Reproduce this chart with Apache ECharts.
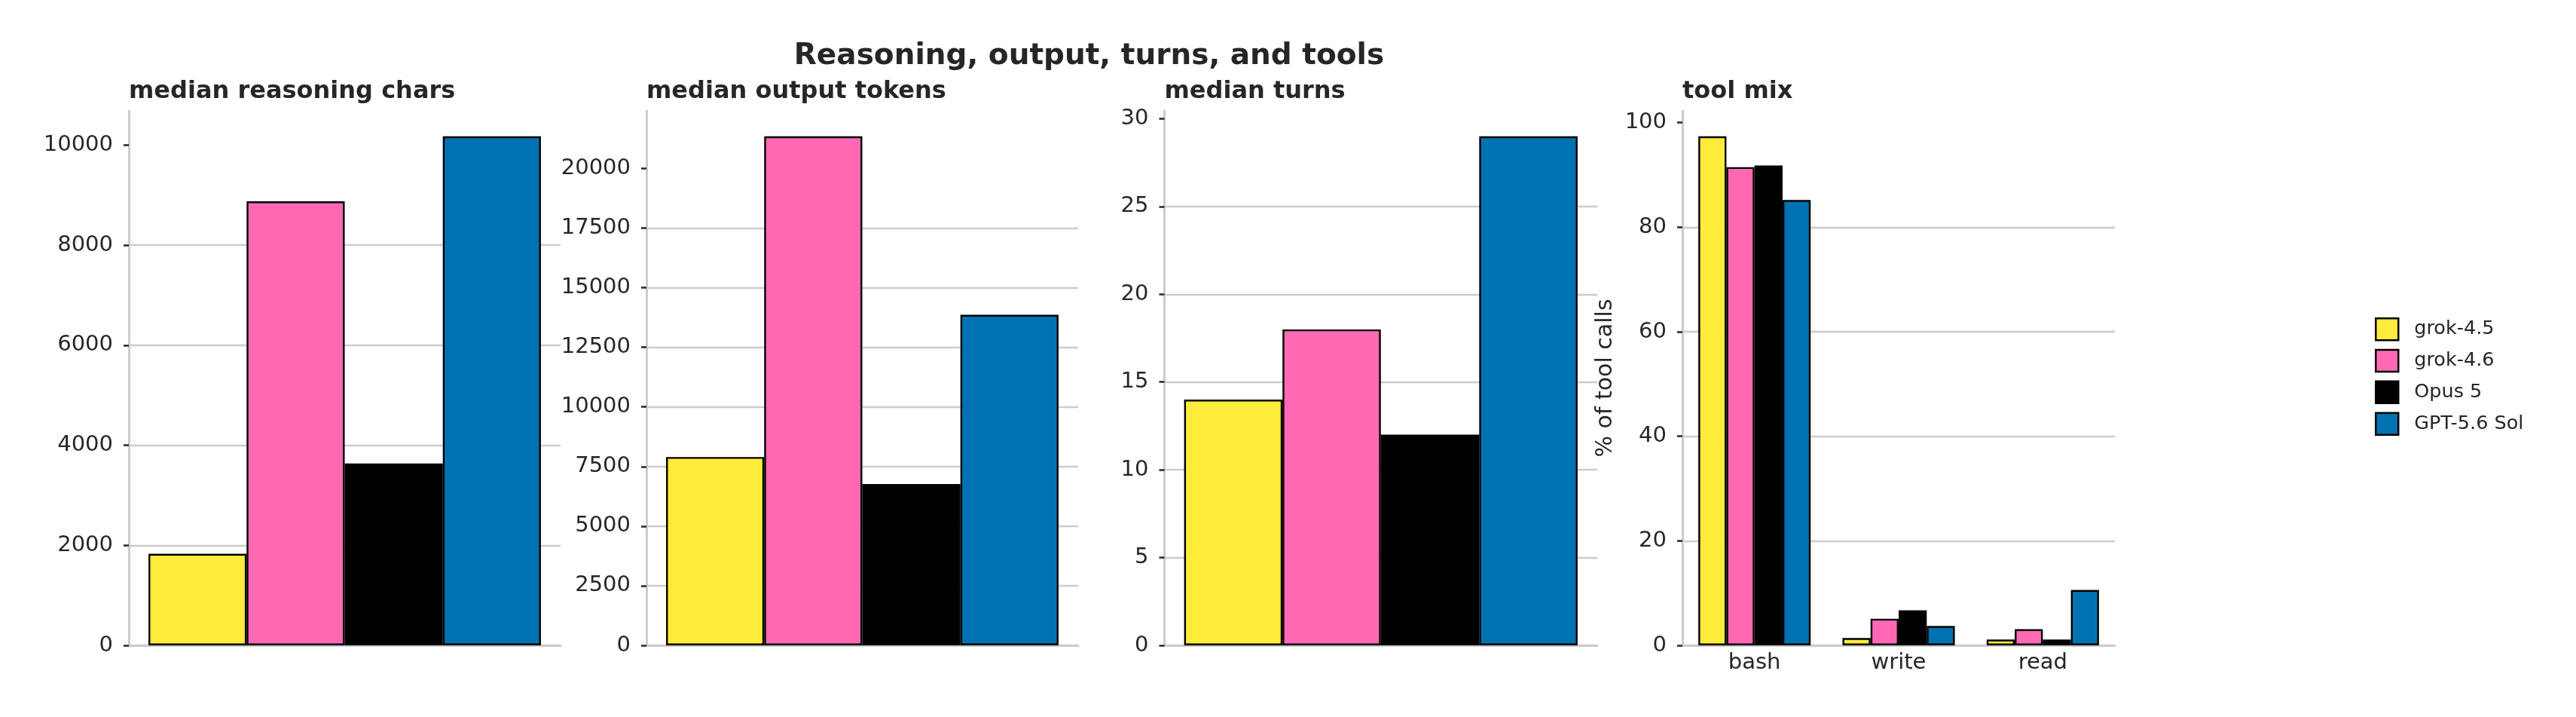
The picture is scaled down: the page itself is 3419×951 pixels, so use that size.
<!DOCTYPE html>
<html><head><meta charset="utf-8">
<script src="https://cdn.jsdelivr.net/npm/echarts@6/dist/echarts.min.js"></script>
<style>html,body{margin:0;padding:0;background:#fff}#c{width:3419px;height:951px}</style>
</head><body><div id="c"></div>
<script>
// ---- data ----
const models = ['grok-4.5', 'grok-4.6', 'Opus 5', 'GPT-5.6 Sol'];
const reasoningChars = [1830, 8875, 3635, 10175];
const outputTokens = [7900, 21350, 6765, 13865];
const medianTurns = [14, 18, 12, 29];
const toolNames = ['bash', 'write', 'read'];
const toolMixGrok45 = [97.4, 1.4, 1.1];
const toolMixGrok46 = [91.5, 5.1, 3.1];
const toolMixOpus5 = [91.8, 6.7, 1.1];
const toolMixGpt56 = [85.2, 3.7, 10.6];
const panelTitles = ['median reasoning chars', 'median output tokens', 'median turns', 'tool mix'];
const yTickIntervals = [2000, 2500, 5, 20];
const mainTitle = 'Reasoning, output, turns, and tools';
const toolAxisLabel = '% of tool calls';

// ---- style / layout ----
const colors = ['#ffeb3b', '#ff69b4', '#000000', '#0072b2'];
const FONT = 'DejaVu Sans';
const TXT = '#262626';
const GRIDC = '#cccccc';
const TICK_FS = 29;
const gridLefts = [171, 858, 1545.5, 2233];
const gridWidths = [573, 573, 574.5, 574];
const GRID_TOP = 147, GRID_H = 709;

const toolMix = [toolMixGrok45, toolMixGrok46, toolMixOpus5, toolMixGpt56];
const singleValues = [reasoningChars, outputTokens, medianTurns];

const grids = [], xAxes = [], yAxes = [], series = [];
for (let p = 0; p < 4; p++) {
  grids.push({ left: gridLefts[p], top: GRID_TOP, width: gridWidths[p], height: GRID_H, containLabel: false });
  const isTool = p === 3;
  xAxes.push({
    type: 'category', gridIndex: p,
    data: isTool ? toolNames : [''],
    axisLine: { show: true, lineStyle: { color: GRIDC, width: 3 } },
    axisTick: { show: false },
    axisLabel: { show: isTool, fontFamily: FONT, fontSize: TICK_FS, color: TXT, margin: 9 },
    splitLine: { show: false }
  });
  const vals = isTool ? [].concat(...toolMix) : singleValues[p];
  const ymax = Math.max(...vals) * 1.05;
  const iv = yTickIntervals[p];
  const tickVals = [];
  for (let v = 0; v <= ymax + 1e-9; v += iv) tickVals.push(v);
  yAxes.push({
    type: 'value', gridIndex: p, min: 0, max: ymax, interval: iv,
    axisLine: { show: true, lineStyle: { color: GRIDC, width: 3 } },
    axisTick: { show: true, length: 7, lineStyle: { color: TXT, width: 2.5 }, customValues: tickVals },
    axisLabel: { fontFamily: FONT, fontSize: TICK_FS, color: TXT, margin: 21, customValues: tickVals,
      formatter: v => (Math.abs(v / iv - Math.round(v / iv)) < 1e-6 ? String(Math.round(v)) : '') },
    splitLine: { show: true, showMaxLine: false, lineStyle: { color: GRIDC, width: 2.4 } },
    name: isTool ? toolAxisLabel : '',
    nameLocation: 'middle', nameGap: 87,
    nameTextStyle: { fontFamily: FONT, fontSize: 30, color: TXT }
  });
  for (let m = 0; m < models.length; m++) {
    series.push({
      type: 'bar', name: models[m], xAxisIndex: p, yAxisIndex: p,
      data: isTool ? toolMix[m] : [singleValues[p][m]],
      barGap: '0%', barCategoryGap: isTool ? '22.1%' : '9.1%',
      itemStyle: { color: colors[m], borderColor: '#000000', borderWidth: 2.4 },
      emphasis: { disabled: true }
    });
  }
}

const graphics = [{
  type: 'text', x: 1445.5, y: 74.5,
  style: { text: mainTitle, font: 'bold 39px "DejaVu Sans"', fill: TXT, align: 'center', verticalAlign: 'middle' }
}];
for (let p = 0; p < 4; p++) {
  graphics.push({
    type: 'text', x: gridLefts[p], y: 122,
    style: { text: panelTitles[p], font: 'bold 32px "DejaVu Sans"', fill: TXT, align: 'left', verticalAlign: 'middle' }
  });
}

const chart = echarts.init(document.getElementById('c'), null, { renderer: 'canvas' });
chart.setOption({
  animation: false,
  backgroundColor: '#ffffff',
  color: colors,
  grid: grids, xAxis: xAxes, yAxis: yAxes, series: series,
  graphic: graphics,
  legend: {
    data: models, orient: 'vertical', left: 3152, top: 421,
    itemWidth: 30, itemHeight: 29, itemGap: 10.3, padding: 0, icon: 'rect',
    itemStyle: { borderColor: '#000000', borderWidth: 2.5 },
    textStyle: { fontFamily: FONT, fontSize: 25.5, color: TXT, padding: [0, 0, 0, 16] }
  }
});
</script>
</body></html>
